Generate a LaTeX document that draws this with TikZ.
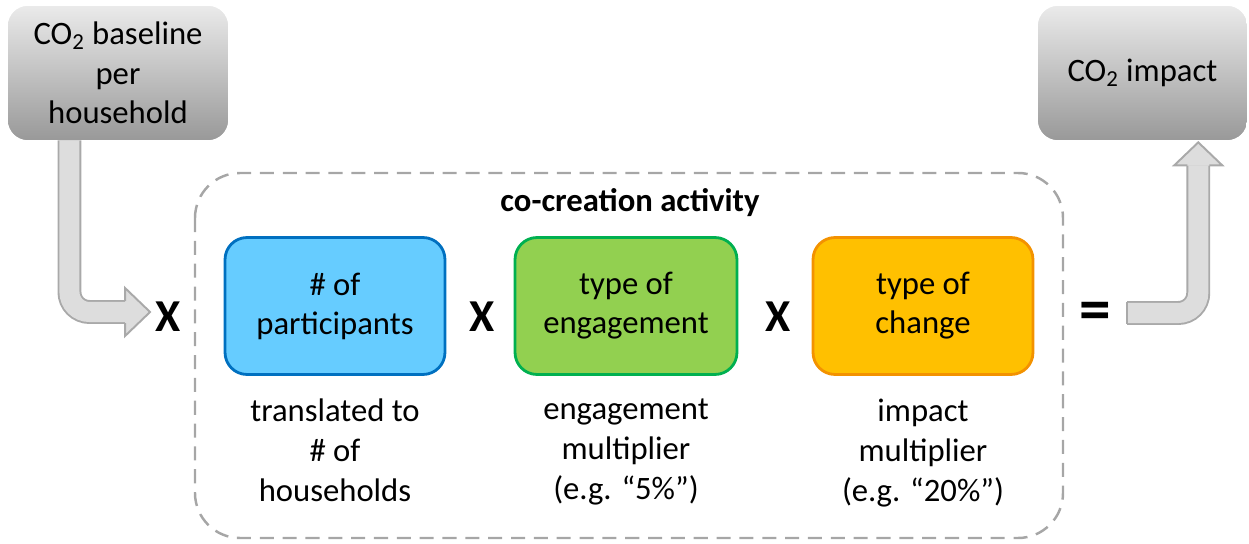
\documentclass[tikz,border=0pt]{standalone}
\usepackage{fontspec}
\setmainfont{Carlito}
\usetikzlibrary{positioning,calc}

\definecolor{partfill}{HTML}{66CCFF}
\definecolor{partline}{HTML}{0070C0}
\definecolor{engfill}{HTML}{92D050}
\definecolor{engline}{HTML}{00B050}
\definecolor{chgfill}{HTML}{FFC000}
\definecolor{chgline}{HTML}{F39200}
\definecolor{shaftfill}{HTML}{DDDDDD}
\definecolor{shaftline}{HTML}{A9A9A9}
\definecolor{framegray}{HTML}{A6A6A6}
\definecolor{boxtop}{HTML}{EAEAEA}
\definecolor{boxmid}{HTML}{D6D6D6}
\definecolor{boxbot}{HTML}{999999}

\tikzset{
  graybox/.style={rectangle, rounded corners=0.4cm, top color=boxtop, middle color=boxmid, bottom color=boxbot,
    minimum height=2.68cm, align=center, font=\fontsize{18.6}{22.5}\selectfont},
  factor/.style={rectangle, rounded corners=0.44cm, line width=1.6pt, minimum width=4.4cm, minimum height=2.74cm,
    align=center, font=\fontsize{18.6}{22.2}\selectfont},
  caption/.style={align=center, inner sep=0pt, font=\fontsize{18.6}{22.7}\selectfont},
  op/.style={inner sep=0pt, font=\fontsize{26}{26}\selectfont\bfseries},
  shaftout/.style={draw=shaftline, line width=13.6pt, rounded corners=0.4cm},
  shaftin/.style={draw=shaftfill, line width=11.4pt, rounded corners=0.4cm},
  headline/.style={draw=shaftline, line width=1.1pt, line join=miter},
  frame/.style={draw=framegray, line width=1.4pt, dash pattern=on 8pt off 5pt, rounded corners=0.9cm}
}

\begin{document}
\begin{tikzpicture}[x=0.02cm, y=-0.02cm]
  \useasboundingbox (0,0) rectangle (1249,544);

  % dashed frame round the activity
  \draw[frame] (195,173) rectangle (1063,538);
  \node[font=\fontsize{18.6}{22}\selectfont\bfseries] (title) at (630,203) {co-creation activity};

  % operators
  \node[op] (times1) at (168,317) {X};
  \node[op] (times2) at (482,317) {X};
  \node[op] (times3) at (778,317) {X};
  \node[op, font=\fontsize{36}{36}\selectfont\bfseries] (equals) at (1095,316) {=};

  % baseline and result
  \node[graybox, minimum width=4.4cm] (base) at (118,73) {CO\textsubscript{2} baseline\\per\\household};
  \node[graybox, minimum width=4.18cm] (impact) at (1142.5,73) {CO\textsubscript{2} impact};

  % left arrow: baseline -> first X
  \coordinate (s1) at ($(base.south west)!0.28!(base.south east)$);
  \coordinate (tip1) at ($(times1.west)+(-5,-5)$);
  \coordinate (h1) at ($(tip1)+(-25,0)$);
  \draw[shaftout] (s1) |- (h1);
  \draw[shaftin] (s1) |- (h1);
  \fill[shaftfill] ($(h1)+(0,-24)$) -- (tip1) -- ($(h1)+(0,24)$) -- cycle;
  \draw[headline] ($(h1)+(0,-11)$) -- ++(0,-13) -- (tip1) -- ($(h1)+(0,24)$) -- ++(0,-13);

  % right arrow: equals -> impact
  \coordinate (s2) at ($(equals.east)+(16,-3)$);
  \coordinate (tip2) at ($(impact.south west)!0.766!(impact.south east)+(0,2)$);
  \coordinate (h2) at ($(tip2)+(0,23)$);
  \draw[shaftout] (s2) -| (h2);
  \draw[shaftin] (s2) -| (h2);
  \draw[headline] ($(s2)+(0,-11)$) -- ($(s2)+(0,11)$);
  \fill[shaftfill] ($(h2)+(-24,0)$) -- (tip2) -- ($(h2)+(24,0)$) -- cycle;
  \draw[headline] ($(h2)+(-11,0)$) -- ++(-13,0) -- (tip2) -- ($(h2)+(24,0)$) -- ++(-13,0);

  % redraw the boxes over the shaft ends
  \node[graybox, minimum width=4.4cm] at (base) {CO\textsubscript{2} baseline\\per\\household};
  \node[graybox, minimum width=4.18cm] at (impact) {CO\textsubscript{2} impact};

  % the three factors
  \node[factor, draw=partline, fill=partfill] (part) at (335,306) {\# of\\participants};
  \node[factor, draw=engline, fill=engfill, minimum width=4.44cm] (engage) at (626,306) {type of\\engagement};
  \node[factor, draw=chgline, fill=chgfill] (change) at (923,306) {type of\\change};

  % what each factor stands for
  \node[caption, below=0.46cm of part] (parttext) {translated to\\\# of\\households};
  \node[caption, below=0.46cm of engage] (engagetext) {engagement\\multiplier\\(e.g. “5\%”)};
  \node[caption, below=0.46cm of change] (changetext) {impact\\multiplier\\(e.g. “20\%”)};
\end{tikzpicture}
\end{document}
